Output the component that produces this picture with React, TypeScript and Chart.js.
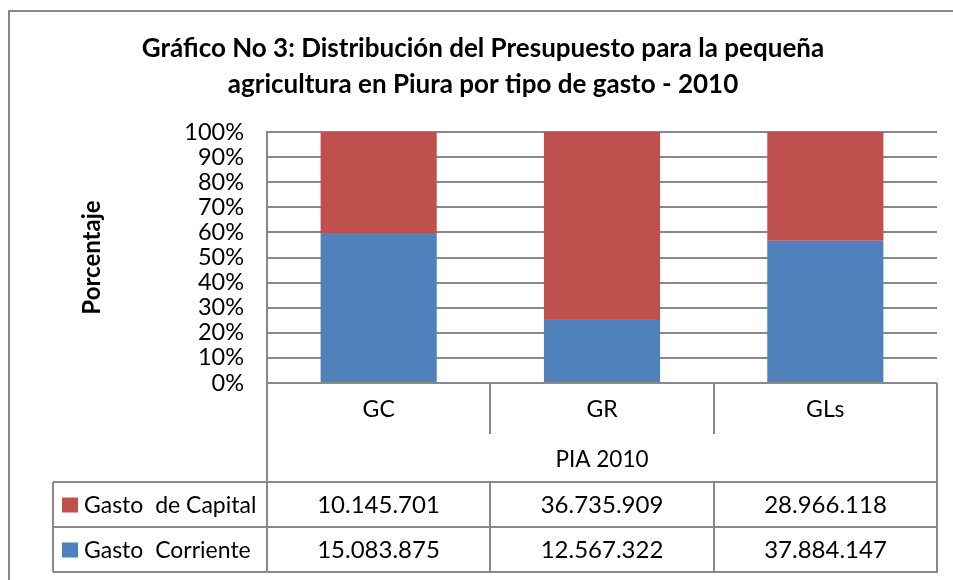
import React, { useEffect, useRef } from "react";
import { Chart, registerables } from "chart.js";

Chart.register(...registerables);

// ---- data ----
const titleLines = [
  "Gráfico No 3: Distribución del Presupuesto para la pequeña",
  "agricultura en Piura por tipo de gasto - 2010",
];
const yAxisTitle = "Porcentaje";
const categories = ["GC", "GR", "GLs"];
const groupLabel = "PIA 2010";
const seriesNames = ["Gasto  Corriente", "Gasto  de Capital"];
const gastoCorriente = [15083875, 12567322, 37884147];
const gastoCapital = [10145701, 36735909, 28966118];
const seriesColors = ["#4F81BD", "#C0504D"];

const FONT = "Lato, 'Open Sans', sans-serif";
const LINE = "#898989";

const totals = categories.map((_, i) => gastoCorriente[i] + gastoCapital[i]);
const rawSeries = [gastoCorriente, gastoCapital];

const fmt = (v: number) => String(v).replace(/\B(?=(\d{3})+(?!\d))/g, ".");

const crisp = (v: number) => Math.round(v);

const tablePlugin = {
  id: "dataTable",
  beforeDraw(chart: any) {
    const { ctx, width, height } = chart;
    ctx.save();
    ctx.fillStyle = "#ffffff";
    ctx.fillRect(0, 0, width, height);
    ctx.strokeStyle = LINE;
    ctx.lineWidth = 2;
    ctx.beginPath();
    ctx.moveTo(9, height + 2);
    ctx.lineTo(9, 11);
    ctx.lineTo(width + 2, 11);
    ctx.stroke();
    ctx.restore();
  },
  afterDraw(chart: any) {
    const { ctx, chartArea: a } = chart;
    const x = chart.scales.x;
    const n = categories.length;
    const step = x.getPixelForValue(1) - x.getPixelForValue(0);
    const edges: number[] = [];
    for (let i = 0; i <= n; i++) edges.push(crisp(x.getPixelForValue(0) - step / 2 + i * step));
    const bottom = crisp(a.bottom);
    const yCat = bottom + 51;
    const yRows = bottom + 99;
    const rowH = 45;
    const yEnd = yRows + rowH * 2;
    const legendLeft = 53;

    ctx.save();
    ctx.strokeStyle = LINE;
    ctx.lineWidth = 2;
    const seg = (x1: number, y1: number, x2: number, y2: number) => {
      ctx.beginPath();
      ctx.moveTo(x1, y1);
      ctx.lineTo(x2, y2);
      ctx.stroke();
    };
    // category row separators
    for (let i = 1; i < n; i++) seg(edges[i], bottom, edges[i], yCat);
    seg(edges[0], bottom, edges[0], yEnd);
    seg(edges[n], bottom, edges[n], yEnd);
    // data rows
    for (let r = 0; r <= 2; r++) seg(legendLeft, yRows + r * rowH, edges[n] + 1, yRows + r * rowH);
    seg(legendLeft, yRows, legendLeft, yEnd);
    for (let i = 1; i < n; i++) seg(edges[i], yRows, edges[i], yEnd);

    // group label
    ctx.fillStyle = "#000";
    ctx.textAlign = "center";
    ctx.textBaseline = "middle";
    ctx.font = `22.5px ${FONT}`;
    ctx.fillText(groupLabel, (a.left + a.right) / 2, bottom + 77);

    // rows: reverse order (top row = last series)
    const order = [1, 0];
    order.forEach((s, r) => {
      const cy = yRows + r * rowH + rowH / 2 + 1;
      ctx.fillStyle = seriesColors[s];
      ctx.fillRect(62, cy - 8, 16, 15);
      ctx.fillStyle = "#000";
      ctx.textAlign = "left";
      ctx.font = `23px ${FONT}`;
      ctx.fillText(seriesNames[s], 84, cy);
      ctx.textAlign = "center";
      ctx.font = `24px ${FONT}`;
      rawSeries[s].forEach((v, i) => {
        ctx.fillText(fmt(v), (edges[i] + edges[i + 1]) / 2, cy);
      });
    });
    ctx.restore();
  },
};

export default function App() {
  const ref = useRef<HTMLCanvasElement | null>(null);
  useEffect(() => {
    if (!ref.current) return;
    const chart = new Chart(ref.current, {
      type: "bar",
      data: {
        labels: categories,
        datasets: rawSeries.map((vals, s) => ({
          label: seriesNames[s],
          data: vals.map((v, i) => (v / totals[i]) * 100),
          backgroundColor: seriesColors[s],
          borderWidth: 0,
          categoryPercentage: 1,
          barPercentage: 0.52,
        })),
      },
      options: {
        responsive: false,
        animation: false,
        layout: { padding: { left: 29, right: 16, top: 0, bottom: 0 } },
        plugins: {
          legend: { display: false },
          tooltip: { enabled: false },
          title: {
            display: true,
            text: titleLines,
            color: "#000",
            font: { family: FONT, size: 26, weight: "bold", lineHeight: 1.385 },
            padding: { top: 31, bottom: 29 },
          },
        },
        scales: {
          x: {
            stacked: true,
            grid: { display: false, drawTicks: false },
            border: { display: false },
            ticks: { color: "#000", font: { family: FONT, size: 23 }, padding: 13 },
            afterFit: (s: any) => {
              s.height = 197;
            },
          },
          y: {
            stacked: true,
            min: 0,
            max: 100,
            grid: { color: LINE, lineWidth: 2, drawTicks: false },
            border: { color: LINE, width: 2 },
            ticks: {
              stepSize: 10,
              autoSkip: false,
              color: "#000",
              font: { family: FONT, size: 23.5, lineHeight: 1 },
              padding: 23,
              callback: (v: any) => `${v}%`,
            },
            title: {
              display: true,
              text: yAxisTitle,
              color: "#000",
              font: { family: FONT, size: 24, weight: "bold" },
              padding: { top: 49, bottom: 0 },
            },
            afterFit: (s: any) => {
              s.width = 238;
            },
          },
        },
      },
      plugins: [tablePlugin],
    });
    return () => chart.destroy();
  }, []);
  return (
    <div style={{ position: "absolute", left: 0, top: 0, width: 953, height: 580 }}>
      <canvas ref={ref} width={953} height={580} style={{ width: 953, height: 580, display: "block" }} />
    </div>
  );
}
